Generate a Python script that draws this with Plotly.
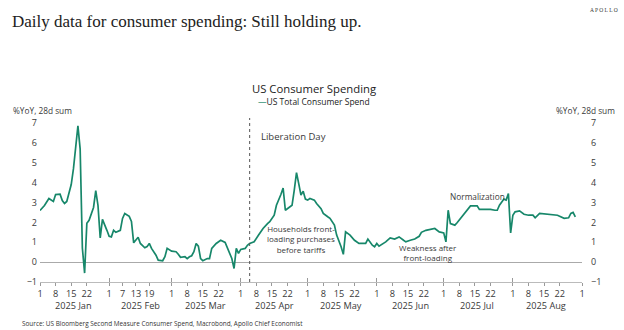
import datetime as dt
import plotly.graph_objects as go

# ---- data ----
day_offsets = [0, 2, 4, 6, 7, 9, 10, 11, 12, 14, 15, 16, 17, 18, 19, 20, 21, 22, 24, 25, 26, 27, 28, 30,
               31, 32, 33, 34, 36, 37, 38, 40, 41, 42, 43, 44, 45, 47, 48, 49, 50, 52, 53, 55, 56, 57,
               59, 61, 62, 63, 65, 66, 67, 68, 69, 70, 71, 72, 73, 75, 76, 77, 79, 81, 83, 84, 86, 87,
               88, 89, 90, 92, 93, 94, 96, 98, 100, 102, 103, 105, 106, 108, 109, 110, 111, 113, 114,
               115, 116, 117, 118, 119, 120, 121, 123, 124, 126, 127, 129, 130, 132, 133, 135, 136,
               137, 139, 141, 143, 146, 147, 149, 150, 151, 152, 155, 157, 159, 161, 163, 164, 166,
               168, 170, 171, 173, 175, 177, 179, 181, 182, 183, 184, 186, 187, 189, 191, 193, 196,
               197, 200, 202, 204, 205, 206, 208, 209, 210, 211, 212, 213, 215, 217, 219, 221, 222,
               224, 227, 230, 232, 235, 237, 238, 239, 240]
values = [2.6, 2.85, 3.2, 3.05, 3.4, 3.42, 3.1, 2.95, 3.05, 3.9, 4.7, 5.7, 6.85, 5.7, 0.7, -0.55, 1.95, 2.1, 2.75, 3.6, 2.85, 1.22, 2.15, 1.6,
          1.3, 1.27, 1.6, 1.5, 1.6, 2.2, 2.45, 2.3, 2.05, 0.97, 1.1, 1.25, 0.94, 0.72, 0.78, 0.94, 0.69, 0.35, 0.1, 0.07, 0.27, 0.69,
          0.55, 0.52, 0.4, 0.24, 0.27, 0.18, 0.27, 0.32, 0.52, 0.94, 0.8, 0.18, 0.07, 0.18, 0.18, 0.69, 0.94, 1.1, 0.99, 0.69, 0.18, -0.32,
          0.69, 0.44, 0.64, 0.69, 0.85, 0.94, 1.02, 1.36, 1.69, 1.94, 2.03, 2.36, 2.86, 3.4, 3.73, 2.61, 2.69, 2.86, 3.62,
          4.5, 3.95, 3.37, 3.57, 3.17, 3.12, 3.2, 3.12, 2.95, 2.69, 2.45, 2.28, 2.2, 1.86, 1.36, 0.77, 0.39,
          1.52, 1.36, 1.1, 0.94, 0.94, 1.16, 0.85, 0.77, 0.94, 0.8, 1.02, 1.22, 1.16, 1.27, 1.1, 1.02, 1.1,
          1.16, 1.3, 1.5, 1.6, 1.66, 1.69, 1.52, 1.47, 1.02, 2.61, 1.94, 1.86, 1.98, 2.28, 2.53, 2.83, 2.83,
          2.65, 2.65, 2.65, 2.61, 2.61, 2.86, 3.17, 3.12, 3.45, 1.47, 2.36, 2.53, 2.58, 2.41, 2.36, 2.36, 2.23,
          2.45, 2.41, 2.36, 2.36, 2.2, 2.23, 2.45, 2.5, 2.28]

tick_dates = ["2025-01-01", "2025-01-08", "2025-01-15", "2025-01-22",
              "2025-02-01", "2025-02-07", "2025-02-13", "2025-02-19",
              "2025-03-01", "2025-03-08", "2025-03-15", "2025-03-22",
              "2025-04-01", "2025-04-08", "2025-04-15", "2025-04-22",
              "2025-05-01", "2025-05-08", "2025-05-15", "2025-05-22",
              "2025-06-01", "2025-06-08", "2025-06-15", "2025-06-22",
              "2025-07-01", "2025-07-08", "2025-07-15", "2025-07-22",
              "2025-08-01", "2025-08-08", "2025-08-15", "2025-08-22",
              "2025-09-01"]
tick_text = [d[-2:].lstrip("0") for d in tick_dates]
month_starts = ["2025-01-01", "2025-02-01", "2025-03-01", "2025-04-01", "2025-05-01",
                "2025-06-01", "2025-07-01", "2025-08-01", "2025-09-01"]
month_label_dates = ["2025-01-16", "2025-02-15", "2025-03-16", "2025-04-16",
                     "2025-05-16", "2025-06-16", "2025-07-16", "2025-08-16"]
month_labels = ["2025 Jan", "2025 Feb", "2025 Mar", "2025 Apr",
                "2025 May", "2025 Jun", "2025 Jul", "2025 Aug"]
liberation_date = "2025-04-05"

base = dt.date(2025, 1, 1)
dates = [(base + dt.timedelta(days=d)).isoformat() for d in day_offsets]

GREEN = "#17876a"
TXT = "#3a3a3a"
SANS = "Open Sans, Noto Sans, sans-serif"

fig = go.Figure()
fig.add_trace(go.Scatter(x=dates, y=values, mode="lines", name="US Total Consumer Spend",
                         line=dict(color=GREEN, width=1.7), showlegend=False))

fig.update_layout(
    width=624, height=330,
    margin=dict(l=40, r=42, t=118, b=48),
    paper_bgcolor="white", plot_bgcolor="white",
    font=dict(family=SANS, size=9, color=TXT),
    xaxis=dict(type="date", range=["2025-01-01", "2025-09-01"],
               tickmode="array", tickvals=tick_dates, ticktext=tick_text,
               ticks="outside", ticklen=3, tickcolor="#999", tickwidth=1,
               showgrid=False, zeroline=False,
               showline=True, linecolor="#bbbbbb", linewidth=1,
               tickfont=dict(size=9.2, color=TXT), fixedrange=True),
    xaxis2=dict(type="date", range=["2025-01-01", "2025-09-01"], overlaying="x",
                anchor="y", side="bottom",
                tickmode="array", tickvals=month_starts, ticks="inside", ticklen=4,
                tickcolor="#999", showticklabels=False, showgrid=False, zeroline=False,
                showline=False),
    yaxis=dict(range=[-1, 7.25], tickmode="array", tickvals=list(range(-1, 8)),
               showgrid=False, zeroline=True, zerolinecolor="#aaaaaa", zerolinewidth=1,
               showline=False, ticks="", tickfont=dict(size=9, color=TXT),
               ticklabelstandoff=2),
    yaxis2=dict(range=[-1, 7.25], overlaying="y", side="right", anchor="x",
                tickmode="array", tickvals=list(range(-1, 8)),
                showgrid=False, zeroline=False, showline=False, ticks="",
                tickfont=dict(size=9, color=TXT), ticklabelstandoff=8),
)

# invisible point so the right-hand axis is drawn
fig.add_trace(go.Scatter(x=[dates[0]], y=[values[0]], yaxis="y2", xaxis="x2",
                         mode="markers", marker=dict(opacity=0), showlegend=False,
                         hoverinfo="skip"))

# Liberation Day dotted line
fig.add_shape(type="line", x0=liberation_date, x1=liberation_date, xref="x",
              y0=0, y1=1, yref="paper", line=dict(color="#555", width=1, dash="dot"))

ann = []
ann.append(dict(text="Daily data for consumer spending: Still holding up.", xref="paper", yref="paper",
                x=-40/542, y=1 + (118-22)/164, xanchor="left", yanchor="middle", showarrow=False,
                xshift=10, font=dict(family="Liberation Serif, serif", size=17, color="#222")))
ann.append(dict(text="A P O L L O", xref="paper", yref="paper", x=1 + 38/542, y=1 + (118-10)/164,
                xanchor="right", yanchor="middle", showarrow=False,
                font=dict(family="Liberation Serif, serif", size=5.5, color="#333")))
ann.append(dict(text="US Consumer Spending", xref="paper", yref="paper", x=(314-40)/542,
                y=1 + (118-88)/164, xanchor="center", yanchor="middle", showarrow=False,
                font=dict(family=SANS, size=11.3, color="#222")))
ann.append(dict(text=f"<span style='color:{GREEN}'>—</span>US Total Consumer Spend", xref="paper", yref="paper",
                x=(314-40)/542, y=1 + (118-102)/164, xanchor="center", yanchor="middle", showarrow=False,
                font=dict(family=SANS, size=8.5, color="#222")))
ann.append(dict(text="%YoY, 28d sum", xref="paper", yref="paper", x=(11-40)/542, y=1 + (118-110)/164,
                xanchor="left", yanchor="middle", showarrow=False, font=dict(size=8.3, color=TXT)))
ann.append(dict(text="%YoY, 28d sum", xref="paper", yref="paper", x=(617-40)/542, y=1 + (118-110)/164,
                xanchor="right", yanchor="middle", showarrow=False, font=dict(size=8.3, color=TXT)))
ann.append(dict(text="Liberation Day", xref="x", yref="y", x="2025-04-09", y=(262-136)/19.875,
                xanchor="left", yanchor="middle", showarrow=False, font=dict(size=9.5, color=TXT)))
ann.append(dict(text="Households front-<br>loading purchases<br>before tariffs", xref="x", yref="y",
                x="2025-04-28", y=(262-239)/19.875, xanchor="center", yanchor="middle", showarrow=False,
                font=dict(size=8, color=TXT)))
ann.append(dict(text="Weakness after<br>front-loading", xref="x", yref="y",
                x="2025-06-24", y=(262-252)/19.875, xanchor="center", yanchor="middle", showarrow=False,
                font=dict(size=8, color=TXT)))
ann.append(dict(text="Normalization", xref="x", yref="y",
                x="2025-07-16", y=(262-196)/19.875, xanchor="center", yanchor="middle", showarrow=False,
                font=dict(size=8.3, color=TXT)))
for d, lab in zip(month_label_dates, month_labels):
    ann.append(dict(text=lab, xref="x", yref="paper", x=d, y=0, yshift=-23, xanchor="center",
                    yanchor="middle", showarrow=False, font=dict(size=9.2, color=TXT)))
ann.append(dict(text="Source: US Bloomberg Second Measure Consumer Spend, Macrobond, Apollo Chief Economist",
                xref="paper", yref="paper", x=(20-40)/542, y=-(323-282)/164, xanchor="left",
                yanchor="middle", showarrow=False, font=dict(size=6.4, color="#333")))
fig.update_layout(annotations=ann)

fig.write_html("out.html")
